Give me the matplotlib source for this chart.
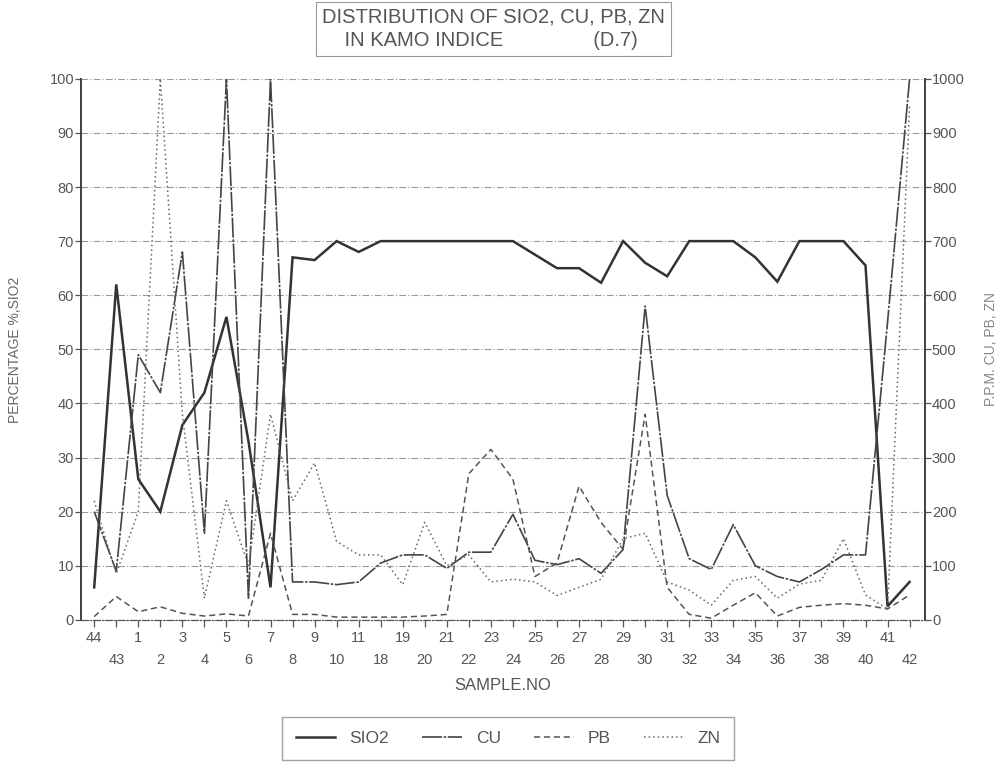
import matplotlib.pyplot as plt

# sample numbers in drilling order, SIO2 in %, metals in p.p.m.
samples = ['44', '43', '1', '2', '3', '4', '5', '6', '7', '8', '9', '10', '11',
           '18', '19', '20', '21', '22', '23', '24', '25', '26', '27', '28', '29',
           '30', '31', '32', '33', '34', '35', '36', '37', '38', '39', '40', '41', '42']

sio2 = [6, 62, 26, 20, 36, 42, 56, 33, 6, 67, 66.5, 70, 68, 70, 70, 70, 70, 70, 70, 70,
        67.5, 65, 65, 62.3, 70, 66, 63.5, 70, 70, 70, 67, 62.5, 70, 70, 70, 65.5, 2.5, 7]
cu = [200, 90, 490, 420, 680, 160, 1000, 40, 1000, 70, 70, 65, 70, 105, 120, 120, 95, 125, 125, 195,
      110, 102, 113, 86, 130, 580, 230, 113, 93, 176, 100, 80, 70, 93, 120, 120, 550, 1000]
pb = [6, 43, 15, 24, 12, 7, 11, 7, 160, 10, 10, 5, 5, 5, 5, 7, 10, 270, 315, 260,
      80, 105, 247, 180, 130, 380, 60, 10, 3, 27, 50, 7, 23, 27, 30, 27, 20, 46]
zn = [220, 85, 200, 1000, 380, 40, 220, 100, 380, 220, 290, 145, 120, 120, 65, 180, 100, 120, 70, 75,
      70, 45, 60, 75, 150, 160, 70, 55, 27, 73, 80, 40, 66, 73, 150, 46, 20, 950]

plt.rcParams['font.family'] = ['Liberation Sans', 'DejaVu Sans']
txt = '#555555'

fig = plt.figure(figsize=(10, 7.69), dpi=100)
ax = fig.add_axes([0.081, 0.194, 0.844, 0.7035])
ax2 = ax.twinx()

x = list(range(len(samples)))

ax.yaxis.grid(True, linestyle=(0, (6, 2, 1, 2)), color='#999999', lw=0.8)
ax.set_axisbelow(True)

l1, = ax.plot(x, sio2, color='#333333', lw=1.8, solid_joinstyle='miter')
l2, = ax2.plot(x, cu, color='#444444', lw=1.2, linestyle=(0, (12, 1, 1.5, 1)))
l3, = ax2.plot(x, pb, color='#555555', lw=1.1, linestyle=(0, (4, 2.5)))
l4, = ax2.plot(x, zn, color='#666666', lw=1.1, linestyle=(0, (1, 2)))

ax.set_xlim(-0.6, len(samples) - 0.3)
ax.set_ylim(0, 100)
ax2.set_ylim(0, 1000)
ax.set_yticks(range(0, 101, 10))
ax2.set_yticks(range(0, 1001, 100))

# two staggered rows of sample numbers
ax.set_xticks(x)
ax.set_xticklabels([s if i % 2 == 0 else '\n' + s for i, s in enumerate(samples)])
for lab in ax.get_xticklabels():
    lab.set_linespacing(1.75)

for a in (ax, ax2):
    a.spines['top'].set_visible(False)
    a.spines['bottom'].set_linestyle((0, (6, 2, 1, 2)))
    a.spines['bottom'].set_color('#555555')
    a.spines['left'].set_color('#444444')
    a.spines['right'].set_color('#444444')
    a.spines['left'].set_linewidth(1.3)
    a.spines['right'].set_linewidth(1.3)
    a.tick_params(colors='#555555', labelcolor=txt, labelsize=10.5, length=4, width=0.9)

ax.tick_params(axis='x', length=5, pad=3)
ax.tick_params(axis='y', pad=1)
ax2.tick_params(axis='y', pad=1)

ax.set_xlabel('SAMPLE.NO', fontsize=12, color=txt, labelpad=8)
ax.set_ylabel('PERCENTAGE %,SIO2', fontsize=10, color='#666666', labelpad=20)
ax2.set_ylabel('P.P.M. CU, PB, ZN', fontsize=10, color='#888888', labelpad=14)

fig.text(0.322, 0.99, 'DISTRIBUTION OF SIO2, CU, PB, ZN\n    IN KAMO INDICE                (D.7)',
         ha='left', va='top', fontsize=14.5, color=txt, linespacing=1.3,
         bbox=dict(boxstyle='square,pad=0.3', fc='white', ec='#999999', lw=0.8))

fig.legend([l1, l2, l3, l4], ['SIO2', 'CU', 'PB', 'ZN'], loc='center',
           bbox_to_anchor=(0.508, 0.04), ncol=4, frameon=True, fancybox=False,
           edgecolor='#888888', fontsize=12.5, handlelength=2.3, columnspacing=1.9,
           borderpad=0.8, labelcolor=txt)

fig.savefig('out.png', dpi=100)
